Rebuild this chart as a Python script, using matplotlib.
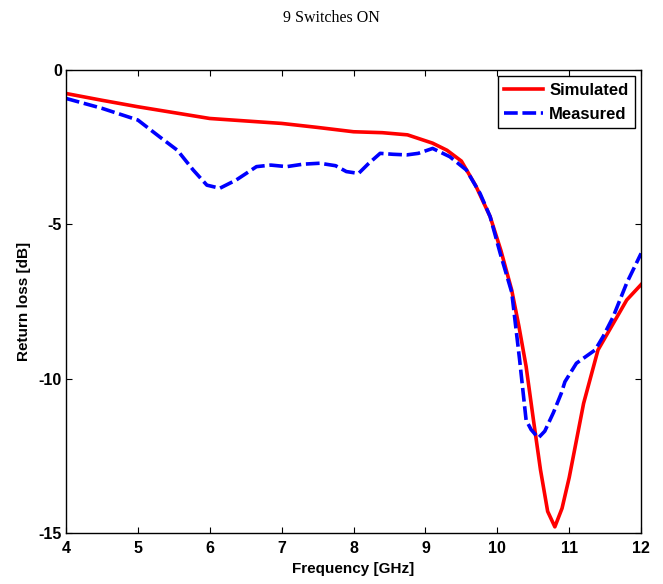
import matplotlib
matplotlib.use("Agg")
import matplotlib.pyplot as plt

plt.rcParams["axes.unicode_minus"] = False

sim_freq = [4.0, 4.5, 5.0, 5.5, 6.0, 6.5, 7.0, 7.5, 8.0, 8.4, 8.75, 9.1, 9.3, 9.5, 9.7, 9.9, 10.05, 10.2, 10.3, 10.4, 10.5, 10.6, 10.7, 10.8, 10.9, 11.0, 11.2, 11.4, 11.6, 11.8, 12.0]
sim_rl = [-0.76, -0.98, -1.19, -1.38, -1.57, -1.65, -1.73, -1.86, -2.0, -2.03, -2.1, -2.37, -2.6, -2.95, -3.75, -4.75, -5.85, -7.13, -8.3, -9.6, -11.3, -12.95, -14.3, -14.8, -14.2, -13.2, -10.8, -9.07, -8.26, -7.45, -6.95]

meas_freq = [4.0, 4.5, 5.0, 5.3, 5.55, 5.77, 5.96, 6.14, 6.37, 6.65, 6.85, 7.07, 7.3, 7.53, 7.75, 7.9, 8.07, 8.2, 8.37, 8.55, 8.74, 8.9, 9.1, 9.34, 9.57, 9.76, 9.9, 10.04, 10.2, 10.31, 10.4, 10.47, 10.57, 10.66, 10.78, 10.89, 10.94, 11.1, 11.36, 11.47, 11.61, 11.8, 12.0]
meas_rl = [-0.92, -1.24, -1.62, -2.16, -2.6, -3.24, -3.73, -3.83, -3.56, -3.13, -3.08, -3.13, -3.05, -3.02, -3.1, -3.29, -3.35, -3.05, -2.7, -2.73, -2.75, -2.7, -2.54, -2.81, -3.24, -4.0, -4.75, -5.94, -7.2, -9.39, -11.34, -11.65, -11.92, -11.7, -11.1, -10.47, -10.1, -9.5, -9.07, -8.64, -8.0, -6.9, -5.94]

fig = plt.figure(figsize=(6.63, 5.84), dpi=100)
ax = fig.add_axes([0.0995, 0.0873, 0.8675, 0.7928])

ax.plot(sim_freq, sim_rl, color="#ff0000", lw=2.6, label="Simulated")
ax.plot(meas_freq, meas_rl, color="#0000ff", lw=2.6, ls=(0, (3.8, 1.3)), label="Measured")

ax.set_xlim(4, 12)
ax.set_ylim(-15, 0)
ax.set_xticks(range(4, 13))
ax.set_yticks([-15, -10, -5, 0])
ax.tick_params(direction="in", top=True, right=True, length=4, width=0.8, labelsize=11.5)
ax.tick_params(axis="x", pad=6)
ax.tick_params(axis="y", pad=3)
for lbl in ax.get_xticklabels() + ax.get_yticklabels():
    lbl.set_fontfamily("Liberation Sans")
    lbl.set_fontweight("bold")
for s in ax.spines.values():
    s.set_linewidth(1.0)

ax.set_xlabel("Frequency [GHz]", fontfamily="Liberation Sans", fontweight="bold", fontsize=11, labelpad=4)
ax.set_ylabel("Return loss [dB]", fontfamily="Liberation Sans", fontweight="bold", fontsize=11, labelpad=5)

fig.text(0.5, 0.969, "9 Switches ON", ha="center", va="center", fontfamily="Liberation Serif", fontsize=11.5)

leg = ax.legend(loc="upper right", prop={"family": "Liberation Sans", "weight": "bold", "size": 12},
                fancybox=False, edgecolor="black", framealpha=1, borderaxespad=0.35,
                handlelength=2.3, handletextpad=0.4, borderpad=0.4, labelspacing=0.55)
leg.get_frame().set_linewidth(1.0)

fig.savefig("out.png", dpi=100)
